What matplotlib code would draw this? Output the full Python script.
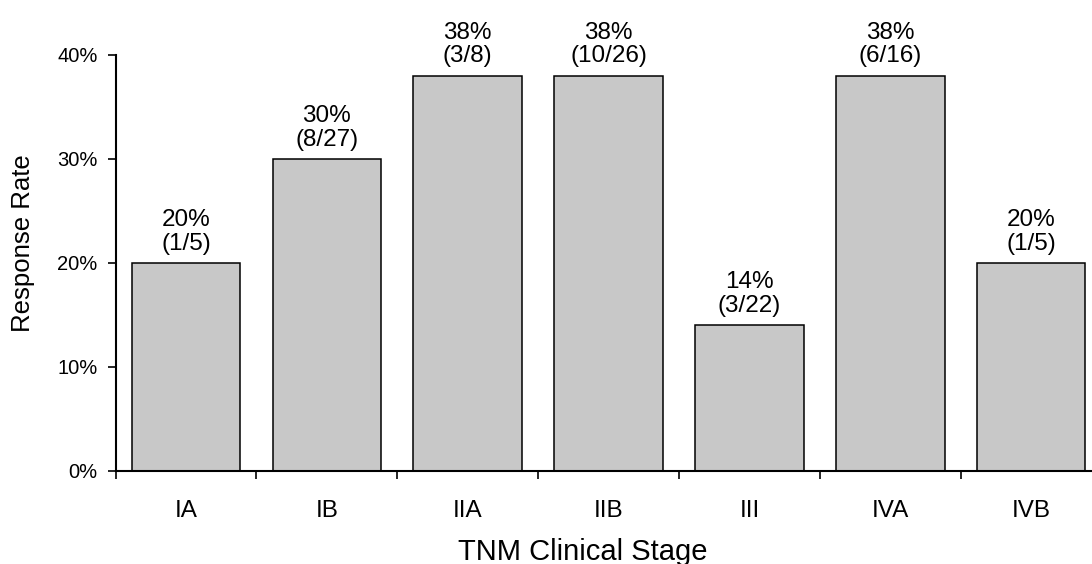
import numpy as np
import matplotlib
matplotlib.use("Agg")
import matplotlib.pyplot as plt
from matplotlib.ticker import PercentFormatter, FixedLocator

plt.rcParams["font.family"] = ["Liberation Sans", "DejaVu Sans"]

# ── Data ─────────────────────────────────────────────────────────────────────
stages = ["IA", "IB", "IIA", "IIB", "III", "IVA", "IVB"]
rates = [20, 30, 38, 38, 14, 38, 20]          # response rate, %
responders = [1, 8, 3, 10, 3, 6, 1]
totals = [5, 27, 8, 26, 22, 16, 5]

# ── Plot ─────────────────────────────────────────────────────────────────────
fig = plt.figure(figsize=(10.92, 5.64), dpi=100)
ax = fig.add_axes([0.1058, 0.1649, 0.9030, 0.7376])

x = np.arange(len(stages))
ax.bar(x, rates, width=0.77, color="#c8c8c8", edgecolor="black", linewidth=1.1)

for xi, r, n, d in zip(x, rates, responders, totals):
    ax.annotate(f"{r}%\n({n}/{d})", xy=(xi, r), xytext=(0, 6),
                textcoords="offset points", ha="center", va="bottom",
                multialignment="center", fontsize=17.5, linespacing=1.1,
                annotation_clip=False)

ax.set_xlim(-0.5, len(stages) - 0.5)
ax.set_ylim(0, 40)
ax.set_yticks([0, 10, 20, 30, 40])
ax.yaxis.set_major_formatter(PercentFormatter(decimals=0))

ax.set_xticks(x)
ax.set_xticklabels(stages, fontsize=17.5)
ax.xaxis.set_minor_locator(FixedLocator(np.arange(-0.5, len(stages), 1.0)))
ax.tick_params(axis="x", which="major", length=0, pad=21)
ax.tick_params(axis="x", which="minor", length=6, width=1.2, direction="out")
ax.tick_params(axis="y", length=6, width=1.2, direction="out", labelsize=14.5, pad=7)

for side in ["top", "right"]:
    ax.spines[side].set_visible(False)
for side in ["left", "bottom"]:
    ax.spines[side].set_linewidth(1.5)

ax.set_xlabel("TNM Clinical Stage", fontsize=21, va="baseline")
ax.xaxis.set_label_coords(0.474, -0.214)
ax.set_ylabel("Response Rate", fontsize=18.5, va="center")
ax.yaxis.set_label_coords(-0.0938, 0.547)

fig.savefig("out.png", dpi=100)
